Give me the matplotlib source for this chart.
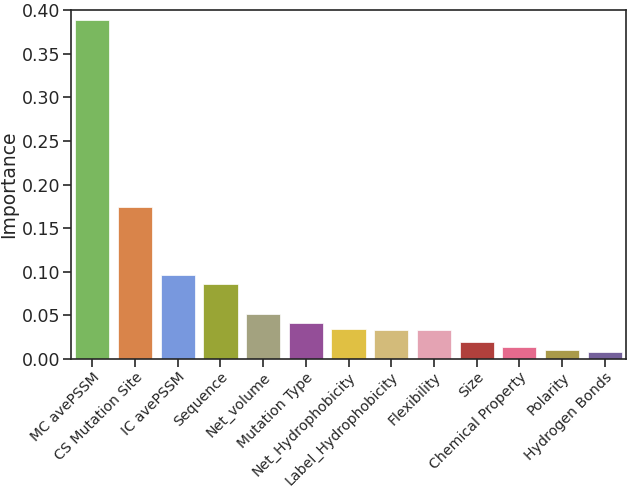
import matplotlib
matplotlib.use("Agg")
import matplotlib.pyplot as plt

features = ["MC avePSSM", "CS Mutation Site", "IC avePSSM", "Sequence", "Net_volume",
            "Mutation Type", "Net_Hydrophobicity", "Label_Hydrophobicity", "Flexibility",
            "Size", "Chemical Property", "Polarity", "Hydrogen Bonds"]
importance = [0.388, 0.174, 0.096, 0.086, 0.052, 0.041, 0.034, 0.033, 0.033,
              0.020, 0.014, 0.010, 0.008]
colors = ["#7ab85f", "#d9844a", "#7898de", "#99a535", "#a3a27f", "#944e98", "#e0c043",
          "#d3bb7a", "#e4a3b3", "#b0403c", "#e56a8d", "#a99a4a", "#74609a"]
yticks = [0.00, 0.05, 0.10, 0.15, 0.20, 0.25, 0.30, 0.35, 0.40]

plt.rcParams['font.family'] = ['DejaVu Sans']
fig = plt.figure(figsize=(6.33, 4.91), dpi=100)
ax = fig.add_axes([71/633, 1 - 359/491, (626-71)/633, (359-10)/491])

x = range(len(features))
ax.bar(x, importance, width=0.8, color=colors, edgecolor="white", linewidth=0.5)
ax.set_xlim(-0.5, len(features) - 0.5)
ax.set_ylim(0, 0.40)
ax.set_yticks(yticks)
ax.set_yticklabels([f"{v:.2f}" for v in yticks], fontsize=12.5, color="#262626")
ax.set_xticks(list(x))
ax.set_xticklabels(features, rotation=45, ha="right", rotation_mode="anchor",
                   fontsize=10.2, color="#262626")
ax.set_ylabel("Importance", fontsize=13.5, color="#262626", labelpad=2.5)
ax.tick_params(axis="both", direction="out", length=6, width=1.2, color="#262626",
               top=False, right=False)
ax.tick_params(axis="y", pad=1.5)
ax.tick_params(axis="x", pad=2)
for s in ax.spines.values():
    s.set_color("#262626")
    s.set_linewidth(1.2)

fig.savefig("out.png", dpi=100)
